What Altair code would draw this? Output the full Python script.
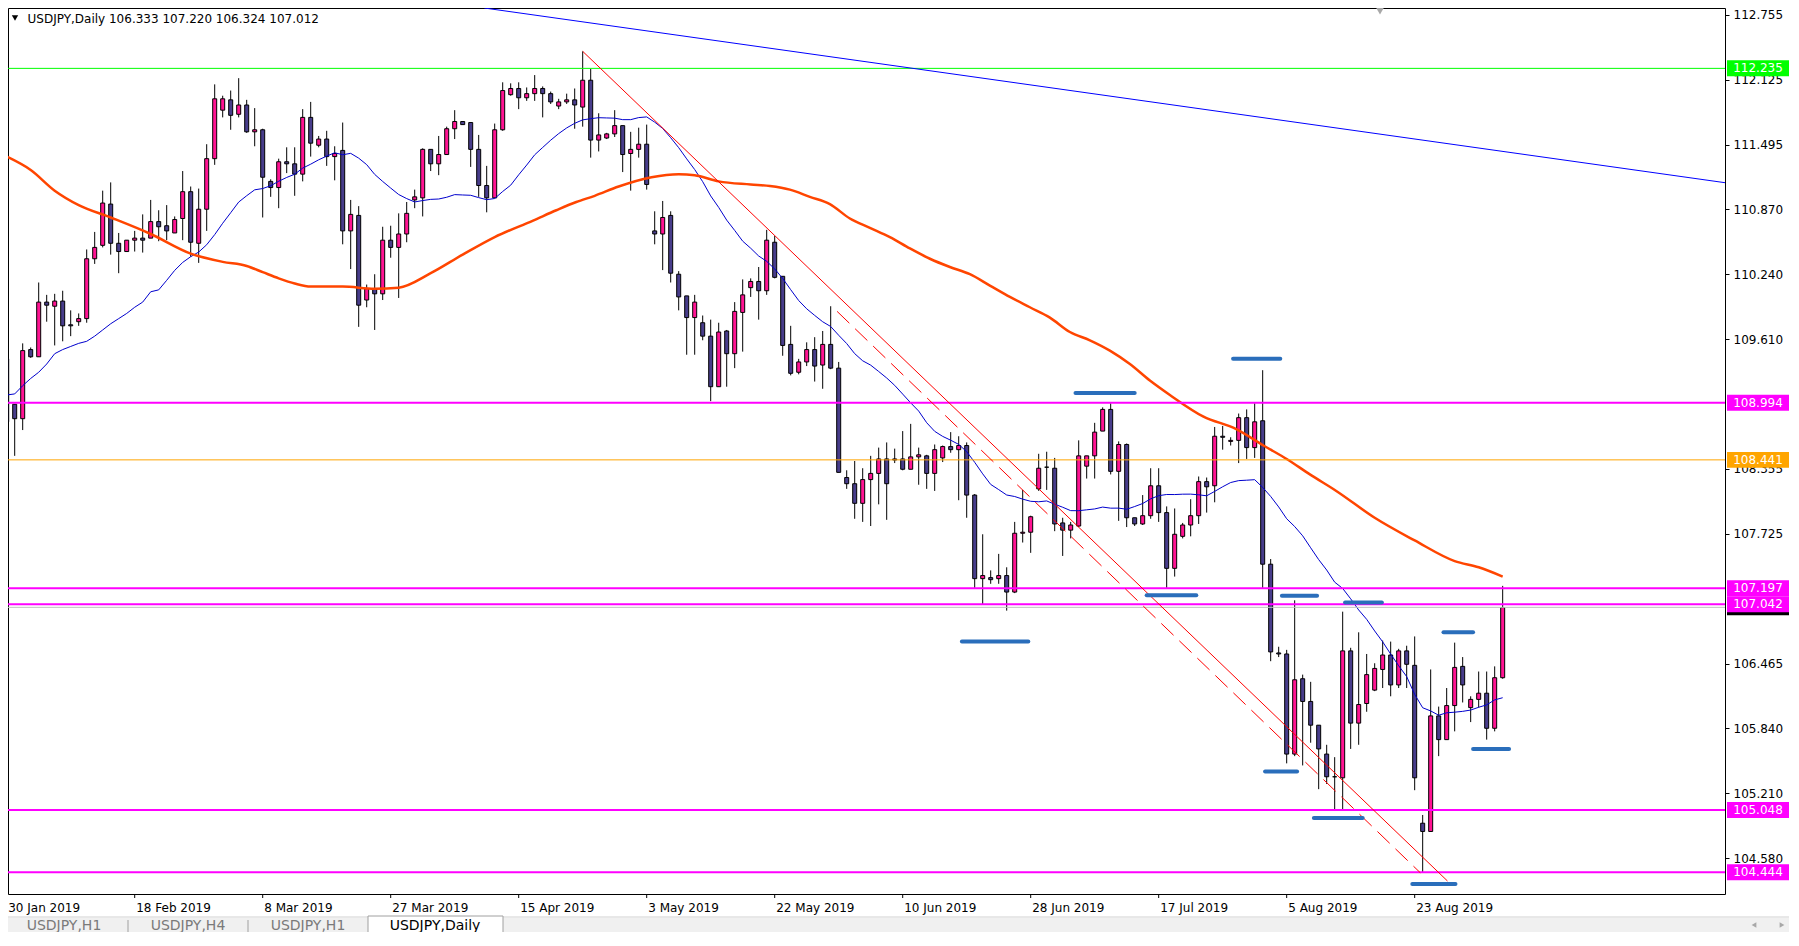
import altair as alt
import pandas as pd

# ---------------- data ----------------
opens = [
    109.42, 108.98, 108.84, 109.51, 109.44, 109.97, 109.93, 109.98, 109.75, 109.78,
    109.81, 110.39, 110.52, 110.92, 110.54, 110.46, 110.57, 110.59, 110.59, 110.75,
    110.71, 110.64, 110.78, 111.04, 110.54, 110.87, 111.36, 111.83, 111.93, 111.79,
    111.88, 111.62, 111.64, 111.14, 111.08, 111.33, 111.31, 111.21, 111.76, 111.49,
    111.55, 111.38, 111.44, 110.66, 110.81, 109.99, 110.10, 110.05, 110.57, 110.50,
    110.63, 110.96, 110.98, 111.45, 111.31, 111.40, 111.65, 111.72, 111.71, 111.45,
    111.10, 110.98, 111.64, 111.98, 112.04, 111.95, 111.99, 112.04, 111.99, 111.87,
    111.91, 111.93, 111.86, 112.12, 111.54, 111.56, 111.60, 111.68, 111.41, 111.45,
    111.50, 110.66, 110.63, 110.81, 110.24, 110.03, 109.82, 109.77, 109.64, 109.15,
    109.69, 109.47, 109.87, 110.11, 110.17, 110.08, 110.55, 110.22, 109.56, 109.29,
    109.39, 109.51, 109.36, 109.56, 109.33, 108.27, 108.21, 108.02, 108.25, 108.31,
    108.45, 108.44, 108.45, 108.35, 108.47, 108.48, 108.31, 108.46, 108.57, 108.54,
    108.58, 108.10, 107.29, 107.30, 107.29, 107.32, 107.16, 107.73, 107.74, 108.16,
    108.37, 108.36, 107.83, 107.76, 107.80, 108.38, 108.48, 108.72, 108.93, 108.33,
    108.59, 107.88, 107.82, 107.90, 108.19, 107.93, 107.39, 107.70, 107.81, 107.90,
    108.23, 108.19, 108.67, 108.62, 108.63, 108.85, 108.56, 108.82, 107.43, 106.57,
    106.56, 105.59, 106.32, 106.10, 105.87, 105.59, 105.37, 105.36, 106.59, 105.89,
    106.08, 106.21, 106.41, 106.55, 106.26, 106.59, 106.45, 104.92, 104.84, 105.96,
    105.73, 106.06, 106.44, 106.04, 106.12, 106.18, 105.84, 106.33,
]
highs = [
    109.74, 108.98, 109.57, 109.53, 110.16, 110.04, 110.05, 110.08, 109.89, 109.86,
    110.48, 110.65, 111.05, 111.13, 110.64, 110.57, 110.66, 110.82, 110.96, 110.86,
    110.91, 110.80, 111.24, 111.09, 111.07, 111.50, 112.08, 111.97, 112.02, 112.14,
    111.93, 111.85, 111.65, 111.16, 111.36, 111.47, 111.47, 111.84, 111.91, 111.58,
    111.63, 111.48, 111.71, 110.96, 110.90, 110.14, 110.24, 110.70, 110.71, 110.83,
    110.94, 111.06, 111.46, 111.45, 111.58, 111.67, 111.83, 111.72, 111.71, 111.59,
    111.29, 111.70, 112.10, 112.09, 112.10, 112.05, 112.17, 112.06, 112.01, 111.94,
    111.99, 112.04, 112.40, 112.23, 111.80, 111.61, 111.83, 111.68, 111.62, 111.66,
    111.69, 110.85, 110.95, 110.85, 110.27, 110.03, 110.04, 109.84, 109.80, 109.77,
    109.70, 109.97, 110.19, 110.20, 110.31, 110.67, 110.61, 110.22, 109.74, 109.42,
    109.58, 109.63, 109.69, 109.93, 109.39, 108.34, 108.43, 108.36, 108.48, 108.56,
    108.61, 108.55, 108.72, 108.79, 108.56, 108.49, 108.59, 108.58, 108.71, 108.67,
    108.61, 108.11, 107.72, 107.37, 107.53, 107.40, 107.84, 108.15, 107.90, 108.50,
    108.52, 108.46, 107.88, 107.84, 108.63, 108.48, 108.80, 108.95, 108.99, 108.62,
    108.60, 107.88, 108.10, 108.36, 108.36, 107.99, 107.97, 107.83, 108.06, 108.28,
    108.27, 108.76, 108.77, 108.66, 108.89, 108.93, 108.99, 109.31, 107.48, 106.63,
    106.60, 107.08, 106.36, 106.29, 105.87, 105.68, 105.56, 106.97, 106.62, 106.77,
    106.56, 106.47, 106.69, 106.68, 106.61, 106.64, 106.73, 105.00, 106.41, 106.05,
    106.23, 106.67, 106.53, 106.15, 106.39, 106.39, 106.44, 107.22,
]
lows = [
    108.79, 108.48, 108.73, 109.43, 109.44, 109.78, 109.55, 109.59, 109.64, 109.74,
    109.77, 110.34, 110.50, 110.43, 110.25, 110.46, 110.46, 110.45, 110.59, 110.56,
    110.57, 110.64, 110.57, 110.41, 110.35, 110.66, 111.30, 111.76, 111.64, 111.76,
    111.61, 111.48, 110.79, 110.99, 110.88, 111.22, 111.00, 111.14, 111.38, 111.47,
    111.29, 111.15, 110.53, 110.29, 109.73, 109.92, 109.70, 109.99, 110.40, 110.01,
    110.55, 110.88, 110.80, 111.24, 111.20, 111.40, 111.55, 111.69, 111.28, 110.99,
    110.84, 110.98, 111.63, 111.97, 111.84, 111.92, 111.92, 111.76, 111.89, 111.84,
    111.89, 111.65, 111.67, 111.37, 111.43, 111.55, 111.57, 111.23, 111.05, 111.37,
    111.06, 110.53, 110.28, 110.16, 109.89, 109.46, 109.46, 109.60, 109.01, 109.15,
    109.15, 109.33, 109.49, 110.02, 109.80, 110.04, 110.20, 109.45, 109.26, 109.27,
    109.35, 109.20, 109.13, 109.32, 108.32, 108.16, 107.87, 107.84, 107.80, 108.01,
    107.86, 108.41, 108.34, 108.35, 108.20, 108.16, 108.14, 108.42, 108.51, 108.05,
    107.88, 107.20, 107.04, 107.24, 107.24, 106.98, 107.15, 107.64, 107.54, 108.14,
    108.15, 107.75, 107.51, 107.68, 107.79, 108.26, 108.26, 108.72, 108.30, 107.85,
    107.79, 107.80, 107.81, 107.87, 107.84, 107.20, 107.31, 107.68, 107.70, 107.82,
    107.93, 108.03, 108.54, 108.58, 108.41, 108.45, 108.46, 107.20, 106.49, 106.53,
    105.50, 105.57, 105.48, 105.70, 105.25, 105.30, 105.04, 105.04, 105.64, 105.68,
    106.00, 106.20, 106.23, 106.15, 106.23, 106.23, 105.24, 104.44, 104.84, 105.57,
    105.73, 105.81, 106.09, 105.90, 106.04, 105.73, 105.81, 106.32,
]
closes = [
    108.81, 108.84, 109.50, 109.44, 109.97, 109.94, 109.98, 109.74, 109.74, 109.81,
    110.39, 110.50, 110.93, 110.54, 110.46, 110.57, 110.59, 110.57, 110.75, 110.70,
    110.66, 110.77, 111.04, 110.55, 110.87, 111.36, 111.94, 111.94, 111.78, 111.88,
    111.62, 111.64, 111.18, 111.08, 111.33, 111.31, 111.21, 111.76, 111.51, 111.55,
    111.38, 111.41, 110.66, 110.82, 109.94, 110.10, 110.05, 110.57, 110.50, 110.63,
    110.83, 110.99, 111.45, 111.31, 111.40, 111.65, 111.72, 111.69, 111.45, 111.10,
    110.98, 111.64, 112.02, 112.04, 111.95, 111.99, 112.04, 111.99, 111.91, 111.91,
    111.93, 111.88, 112.12, 111.54, 111.59, 111.60, 111.68, 111.40, 111.45, 111.50,
    111.11, 110.63, 110.79, 110.25, 110.02, 109.82, 109.97, 109.64, 109.15, 109.68,
    109.47, 109.88, 110.04, 110.17, 110.08, 110.57, 110.21, 109.55, 109.28, 109.39,
    109.51, 109.35, 109.56, 109.33, 108.32, 108.21, 108.02, 108.25, 108.31, 108.45,
    108.21, 108.45, 108.35, 108.47, 108.49, 108.31, 108.54, 108.57, 108.54, 108.58,
    108.10, 107.29, 107.32, 107.28, 107.32, 107.16, 107.73, 107.74, 107.89, 108.36,
    108.37, 107.82, 107.76, 107.81, 108.48, 108.48, 108.71, 108.93, 108.33, 108.59,
    107.88, 107.82, 107.90, 108.19, 107.93, 107.39, 107.72, 107.81, 107.90, 108.23,
    108.18, 108.67, 108.66, 108.63, 108.85, 108.56, 108.81, 107.43, 106.58, 106.56,
    105.59, 106.31, 106.10, 105.87, 105.64, 105.37, 105.37, 106.59, 105.89, 106.07,
    106.36, 106.42, 106.55, 106.26, 106.59, 106.46, 105.36, 104.84, 105.96, 105.73,
    106.06, 106.43, 106.26, 106.12, 106.18, 105.84, 106.33, 107.01,
]
# blue 20-bar MA values read for the first bars (history before the window)
ma20_early = [109.07, 109.08, 109.16, 109.23, 109.29, 109.37, 109.47, 109.51, 109.54, 109.57,
              109.59, 109.64, 109.70, 109.76, 109.81, 109.86, 109.92, 109.97, 110.07]

# red slow MA (bar index, price)
red_ma_idx = [0, 3, 6, 9, 13, 18, 23, 27, 30, 32, 34, 36, 38, 42, 46, 49, 53, 57, 61, 65.8,
              68.7, 71.2, 73.5, 76.5, 80.6, 84, 86, 89, 93, 95.4, 97.9, 100.4, 102.9, 105.4,
              107.9, 110.4, 112.9, 115.4, 117.9, 120.4, 122.9, 125.4, 127.9, 130.4, 132.9,
              135.4, 137.9, 140.4, 142.9, 145.4, 149.6, 153.7, 157.1, 160, 162.9, 166.2, 171,
              176, 181, 184, 187]
red_ma_val = [111.38, 111.25, 111.05, 110.91, 110.79, 110.63, 110.44, 110.36, 110.32, 110.26,
              110.20, 110.15, 110.12, 110.12, 110.10, 110.11, 110.25, 110.43, 110.60, 110.76,
              110.86, 110.94, 111.00, 111.09, 111.18, 111.21, 111.20, 111.14, 111.11, 111.095,
              111.06, 110.99, 110.92, 110.78, 110.69, 110.60, 110.49, 110.39, 110.31, 110.24,
              110.13, 110.02, 109.92, 109.82, 109.68, 109.60, 109.50, 109.37, 109.21, 109.07,
              108.86, 108.74, 108.58, 108.45, 108.30, 108.14, 107.88, 107.66, 107.46, 107.40,
              107.31]

date_idx = [0, 16, 32, 48, 64, 80, 96, 112, 128, 144, 160, 176]
date_labels = ["30 Jan 2019", "18 Feb 2019", "8 Mar 2019", "27 Mar 2019", "15 Apr 2019",
               "3 May 2019", "22 May 2019", "10 Jun 2019", "28 Jun 2019", "17 Jul 2019",
               "5 Aug 2019", "23 Aug 2019"]

axis_ticks = [112.755, 112.125, 111.495, 110.870, 110.240, 109.610, 108.355, 107.725,
              106.465, 105.840, 105.210, 104.580]

level_prices = [112.235, 108.994, 108.441, 107.197, 107.042, 105.048, 104.444]
level_colors = ["#00ff00", "#ff00ff", "#ffa500", "#ff00ff", "#ff00ff", "#ff00ff", "#ff00ff"]
level_widths = [1, 2, 1, 2, 2, 2, 2]
bid_price = 107.012

# trend lines (start index, start price, end index, end price)
trend_x1 = [72.0, 59.7]
trend_y1 = [112.40, 112.82]
trend_x2 = [180.1, 214.79]
trend_y2 = [104.36, 111.127]
trend_col = ["#ff0000", "#0000ff"]
dash_x1, dash_y1, dash_x2, dash_y2 = [103.8], [109.88], [176.7], [104.44]

# short blue marker segments
mark_x1 = [133.6, 153.3, 119.4, 142.5, 159.4, 167.3, 157.3, 163.4, 179.6, 183.3, 175.7]
mark_x2 = [141.0, 159.2, 127.7, 148.7, 163.8, 171.9, 161.3, 169.5, 183.3, 187.8, 181.1]
mark_y = [109.09, 109.42, 106.68, 107.13, 107.125, 107.06, 105.42, 104.97, 106.77, 105.64, 104.33]

tab_labels = ["USDJPY,H1", "USDJPY,H4", "USDJPY,H1", "USDJPY,Daily"]

# ---------------- chart ----------------
W, H = 1717, 886
PINK, NAVY = "#ff1493", "#483d8b"
FONT = "DejaVu Sans"
xs = alt.Scale(domain=[0.1625, 214.79], nice=False, zero=False)
ys = alt.Scale(domain=[104.234, 112.820], nice=False, zero=False)
yaxis = alt.Axis(orient="right", values=axis_ticks, format=".3f", labelFont=FONT,
                 labelFontSize=12, labelColor="black", tickColor="black", tickSize=4,
                 domain=False, grid=False, labelPadding=4, title=None,
                 labelOverlap=False, labelBound=False, labelFlush=False)

candles = pd.DataFrame({
    "i": list(range(len(closes))), "o": opens, "h": highs, "l": lows, "c": closes,
    "ma_early": ma20_early + [None] * (len(closes) - len(ma20_early)),
})
X = lambda f: alt.X(f, scale=xs, axis=None)
Y = lambda f: alt.Y(f, scale=ys, axis=yaxis)

wicks = alt.Chart(candles).mark_rule(color="black", strokeWidth=1, clip=True).encode(
    x=X("i:Q"), y=Y("l:Q"), y2="h:Q")

bodies = alt.Chart(candles).transform_calculate(
    bx1="datum.i - 0.25", bx2="datum.i + 0.25",
    top="max(datum.o, datum.c)", bot="min(datum.o, datum.c)",
).mark_rect(stroke="black", strokeWidth=1, clip=True).encode(
    x=X("bx1:Q"), x2="bx2:Q", y=Y("top:Q"), y2="bot:Q",
    color=alt.condition("datum.c >= datum.o", alt.value(PINK), alt.value(NAVY)))

blue_ma = alt.Chart(candles).transform_window(
    ma_calc="mean(c)", frame=[-19, 0], sort=[alt.SortField("i")]
).transform_calculate(
    ma="datum.i < 19 ? datum.ma_early : datum.ma_calc"
).mark_line(color="#0000cd", strokeWidth=1, clip=True).encode(x=X("i:Q"), y=Y("ma:Q"))

red_df = pd.DataFrame({"i": red_ma_idx, "v": red_ma_val})
red_ma = alt.Chart(red_df).mark_line(color="#ff4500", strokeWidth=2.5, clip=True,
                                     interpolate="monotone").encode(x=X("i:Q"), y=Y("v:Q"))

lv_df = pd.DataFrame({"p": level_prices, "col": level_colors, "w": level_widths})
levels = alt.Chart(lv_df).mark_rule().encode(
    x=alt.value(0), x2=alt.value(W), y=Y("p:Q"),
    color=alt.Color("col:N", scale=None), size=alt.Size("w:Q", scale=None))

bid = alt.Chart(pd.DataFrame({"p": [bid_price]})).mark_rule(color="#c0c0c0", strokeWidth=1).encode(
    x=alt.value(0), x2=alt.value(W), y=Y("p:Q"))

tl_df = pd.DataFrame({"x1": trend_x1, "y1": trend_y1, "x2": trend_x2, "y2": trend_y2, "col": trend_col})
trends = alt.Chart(tl_df).mark_rule(strokeWidth=1, clip=True).encode(
    x=X("x1:Q"), x2="x2:Q", y=Y("y1:Q"), y2="y2:Q", color=alt.Color("col:N", scale=None))

dash_df = pd.DataFrame({"x1": dash_x1, "y1": dash_y1, "x2": dash_x2, "y2": dash_y2})
dashed = alt.Chart(dash_df).mark_rule(color="#ff0000", strokeWidth=1, strokeDash=[17, 8],
                                      clip=True).encode(
    x=X("x1:Q"), x2="x2:Q", y=Y("y1:Q"), y2="y2:Q")

mk_df = pd.DataFrame({"x1": mark_x1, "x2": mark_x2, "y": mark_y})
markers = alt.Chart(mk_df).mark_rule(color="#2a6ebb", strokeWidth=4, strokeCap="round",
                                     clip=True).encode(x=X("x1:Q"), x2="x2:Q", y=Y("y:Q"))

# bid box (hidden behind the level boxes except its lower edge), then the level boxes
bid_box_df = pd.DataFrame({"p": [bid_price]})
bid_box = alt.Chart(bid_box_df).transform_calculate(
    top="datum.p + 0.0775", bot="datum.p - 0.0775"
).mark_rect(color="#000000").encode(
    x=alt.value(W + 2), x2=alt.value(W + 64), y=Y("top:Q"), y2="bot:Q")

box_df = pd.DataFrame({
    "p": level_prices,
    "col": level_colors,
    "label": [f"{v:.3f}" for v in level_prices],
})
boxes = alt.Chart(box_df).transform_calculate(
    top="datum.p + 0.0775", bot="datum.p - 0.0775"
).mark_rect().encode(
    x=alt.value(W + 2), x2=alt.value(W + 64), y=Y("top:Q"), y2="bot:Q",
    color=alt.Color("col:N", scale=None))
box_text = alt.Chart(box_df).mark_text(color="white", font=FONT, fontSize=12, align="center",
                                       baseline="middle").encode(
    x=alt.value(W + 33), y=Y("p:Q"), text="label:N")

dt_df = pd.DataFrame({"i": date_idx, "label": date_labels})
date_ticks = alt.Chart(dt_df).mark_rule(color="black", strokeWidth=1).encode(
    x=alt.X("i:Q", scale=xs, axis=None), y=alt.value(H), y2=alt.value(H + 4))
date_text = alt.Chart(dt_df).mark_text(font=FONT, fontSize=12, color="black", align="left",
                                       baseline="middle", dx=1.5).encode(
    x=alt.X("i:Q", scale=xs, axis=None), y=alt.value(H + 13.5), text="label:N")

one = alt.Data(values=[{}])
header = alt.Chart(one).mark_text(
    text="USDJPY,Daily  106.333 107.220 106.324 107.012", font=FONT, fontSize=12,
    color="black", align="left", baseline="middle").encode(x=alt.value(19.5), y=alt.value(10.5))
header_tri = alt.Chart(one).mark_point(shape="triangle-down", filled=True, color="black",
                                       size=40, opacity=1).encode(x=alt.value(7), y=alt.value(10))
shift_tri = alt.Chart(one).mark_point(shape="triangle-down", filled=True, color="#a8a8a8",
                                      size=110, opacity=1).encode(x=alt.value(1372), y=alt.value(2))


def deco_rect(x1, x2, y1, y2, fill, stroke=None):
    kw = {"fill": fill}
    if stroke:
        kw["stroke"] = stroke
        kw["strokeWidth"] = 1
    return alt.Chart(one).mark_rect(**kw).encode(
        x=alt.value(x1), x2=alt.value(x2), y=alt.value(y1), y2=alt.value(y2))


tab_bar = deco_rect(0, W + 64, H + 24, H + 38, "#f0f0f0")
tab_line = alt.Chart(one).mark_rule(color="#d0d0d0").encode(
    x=alt.value(0), x2=alt.value(W + 64), y=alt.value(H + 23), y2=alt.value(H + 23))
active_tab = deco_rect(360, 495, H + 22, H + 39, "white", "#a0a0a0")
seps = [alt.Chart(one).mark_rule(color="#a0a0a0").encode(
    x=alt.value(xv), x2=alt.value(xv), y=alt.value(H + 26), y2=alt.value(H + 38))
    for xv in (120, 240)]
tab_x = [56, 180, 300, 427]
tab_texts = [alt.Chart(one).mark_text(
    text=lab, font=FONT, fontSize=14, color=("black" if k == 3 else "#7a7a7a"),
    align="center", baseline="middle").encode(x=alt.value(tx), y=alt.value(H + 31.5))
    for k, (lab, tx) in enumerate(zip(tab_labels, tab_x))]
arrows = [alt.Chart(one).mark_point(shape=shp, filled=True, color="#a8a8a8", size=30,
                                    opacity=1).encode(x=alt.value(ax), y=alt.value(H + 31))
          for shp, ax in (("triangle-left", 1746), ("triangle-right", 1774))]

chart = alt.layer(
    wicks, bodies, blue_ma, red_ma, levels, bid, trends, dashed, markers,
    bid_box, boxes, box_text, date_ticks, date_text, header, header_tri, shift_tri,
    tab_line, tab_bar, active_tab, *seps, *tab_texts, *arrows,
).properties(
    width=W, height=H,
    padding={"left": 0, "top": 0, "right": 64, "bottom": 38},
    autosize=alt.AutoSizeParams(type="none"),
).configure(background="white").configure_view(stroke="black", strokeWidth=1)

chart.save("out.html", embed_options={"renderer": "svg", "actions": False})
